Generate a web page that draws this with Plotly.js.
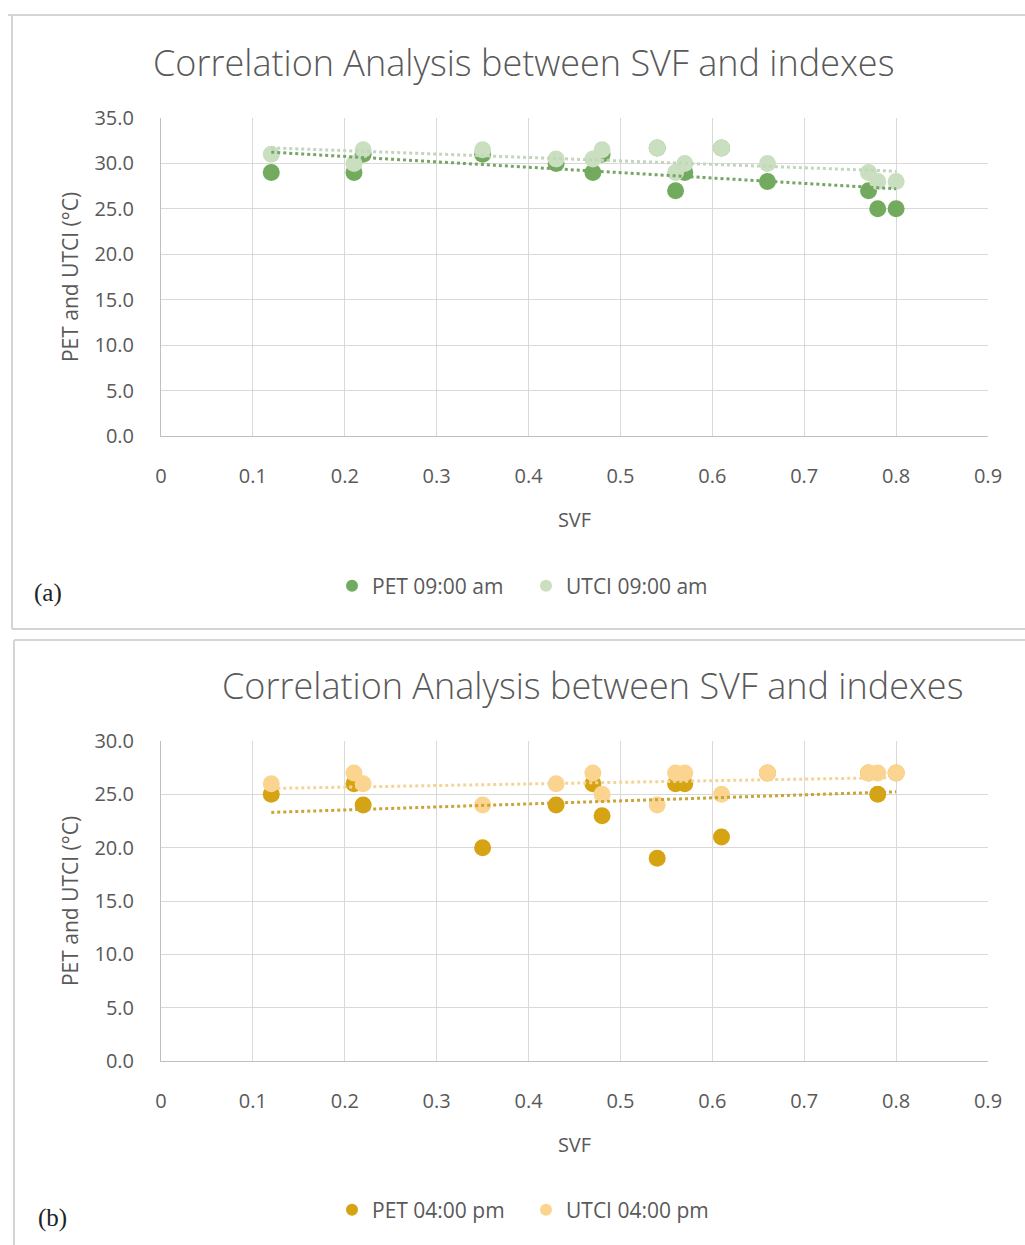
<!DOCTYPE html>
<html>
<head>
<meta charset="utf-8">
<script src="https://cdn.plot.ly/plotly-3.0.1.min.js"></script>
<style>html,body{margin:0;padding:0;background:#fff}#chart{width:1025px;height:1245px}</style>
</head>
<body>
<div id="chart"></div>
<script>
// ---- data ----
const svf = [0.12, 0.21, 0.22, 0.35, 0.43, 0.47, 0.48, 0.54, 0.56, 0.57, 0.61, 0.66, 0.77, 0.78, 0.80];
const pet0900  = [29, 29, 31, 31, 30, 29, 31, 31.7, 27, 29, 31.7, 28, 27, 25, 25];
const utci0900 = [31, 30, 31.5, 31.5, 30.5, 30.5, 31.5, 31.7, 29, 30, 31.7, 30, 29, 28, 28];
const pet1600  = [25, 26, 24, 20, 24, 26, 23, 19, 26, 26, 21, 27, 27, 25, 27];
const utci1600 = [26, 27, 26, 24, 26, 27, 25, 24, 27, 27, 25, 27, 27, 27, 27];
const seriesNames = ["PET 09:00 am", "UTCI 09:00 am", "PET 04:00 pm", "UTCI 04:00 pm"];
const chartTitle = "Correlation Analysis between SVF and indexes";
const xTitle = "SVF";
const yTitle = "PET and UTCI (°C)";
const panelLabels = ["(a)", "(b)"];

// ---- helpers ----
function trend(xs, ys) {
  const n = xs.length;
  const mx = xs.reduce((a, b) => a + b, 0) / n;
  const my = ys.reduce((a, b) => a + b, 0) / n;
  let sxy = 0, sxx = 0;
  for (let i = 0; i < n; i++) { sxy += (xs[i] - mx) * (ys[i] - my); sxx += (xs[i] - mx) ** 2; }
  const b = sxy / sxx, a = my - b * mx;
  const x0 = Math.min(...xs), x1 = Math.max(...xs);
  return { x: [x0, x1], y: [a + b * x0, a + b * x1] };
}
const W = 1025, H = 1245;
const px = v => v / W, py = v => 1 - v / H;

const cPetAm = "#72aa5e", cUtciAm = "#c9dfc0", cPetPm = "#d6a312", cUtciPm = "#fbd590";
const FONT = "Open Sans, Noto Sans, sans-serif";
const gray = "#595959";

function pts(x, y, name, color, xa, ya, legend) {
  return { type: "scatter", mode: "markers", x, y, name, xaxis: xa, yaxis: ya, legend,
    marker: { size: 17, color, line: { width: 0 } } };
}
function tl(x, y, color, xa, ya) {
  const t = trend(x, y);
  return { type: "scatter", mode: "lines", x: t.x, y: t.y, xaxis: xa, yaxis: ya, showlegend: false,
    hoverinfo: "skip", line: { color, width: 3, dash: "dot" } };
}

const data = [
  pts(svf, pet0900, seriesNames[0], cPetAm, "x", "y", "legend"),
  pts(svf, utci0900, seriesNames[1], cUtciAm, "x", "y", "legend"),
  tl(svf, pet0900, "#76a566", "x", "y"),
  tl(svf, utci0900, "#c3d6bd", "x", "y"),
  pts(svf, pet1600, seriesNames[2], cPetPm, "x2", "y2", "legend2"),
  pts(svf, utci1600, seriesNames[3], cUtciPm, "x2", "y2", "legend2"),
  tl(svf, pet1600, "#c9a535", "x2", "y2"),
  tl(svf, utci1600, "#f3d59a", "x2", "y2"),
];

function xaxis(anchor) {
  return { domain: [px(161), px(988)], anchor, range: [0, 0.9], dtick: 0.1, tick0: 0,
    showgrid: true, gridcolor: "#d9d9d9", gridwidth: 1, zeroline: false,
    showline: true, linecolor: "#bfbfbf", linewidth: 1, ticks: "", ticklabelstandoff: 22,
    tickfont: { family: FONT, size: 20, color: gray },
    title: { text: xTitle, standoff: 24, font: { family: FONT, size: 20, color: gray } } };
}
function yaxis(anchor, dom, max) {
  return { domain: dom, anchor, range: [0, max], dtick: 5, tickformat: ".1f",
    showgrid: true, gridcolor: "#d9d9d9", gridwidth: 1, zeroline: false,
    showline: true, linecolor: "#bfbfbf", linewidth: 1, ticks: "", ticklabelstandoff: 22,
    tickfont: { family: FONT, size: 20, color: gray },
    title: { text: yTitle, standoff: 10, font: { family: FONT, size: 21, color: gray } } };
}

const border = "#d4d4d4";
const legendCommon = { orientation: "h", xanchor: "left", yanchor: "middle",
  entrywidth: 149, entrywidthmode: "pixels", itemsizing: "constant",
  font: { family: FONT, size: 21, color: gray }, bgcolor: "rgba(0,0,0,0)" };
const layout = {
  width: W, height: H, margin: { l: 0, r: 0, t: 0, b: 0 },
  paper_bgcolor: "#fff", plot_bgcolor: "#fff",
  showlegend: true,
  xaxis: xaxis("y"),
  yaxis: yaxis("x", [py(436), py(118)], 35),
  xaxis2: xaxis("y2"),
  yaxis2: yaxis("x2", [py(1061), py(741)], 30),
  legend: Object.assign({ x: px(332), y: py(586) }, legendCommon),
  legend2: Object.assign({ x: px(332), y: py(1210) }, legendCommon),
  annotations: [
    { text: chartTitle, xref: "paper", yref: "paper", x: px(523), y: py(62), xanchor: "center", yanchor: "middle",
      showarrow: false, font: { family: FONT, size: 36, color: gray, weight: 300 } },
    { text: chartTitle, xref: "paper", yref: "paper", x: px(592), y: py(686), xanchor: "center", yanchor: "middle",
      showarrow: false, font: { family: FONT, size: 36, color: gray, weight: 300 } },
    { text: panelLabels[0], xref: "paper", yref: "paper", x: px(48), y: py(593), xanchor: "center", yanchor: "middle",
      showarrow: false, font: { family: "Liberation Serif, DejaVu Serif, serif", size: 25, color: "#222" } },
    { text: panelLabels[1], xref: "paper", yref: "paper", x: px(52), y: py(1218), xanchor: "center", yanchor: "middle",
      showarrow: false, font: { family: "Liberation Serif, DejaVu Serif, serif", size: 25, color: "#222" } },
  ],
  shapes: [
    { type: "line", xref: "paper", yref: "paper", x0: px(8), x1: 1, y0: py(15), y1: py(15), line: { color: border, width: 2 } },
    { type: "line", xref: "paper", yref: "paper", x0: px(12), x1: px(12), y0: py(15), y1: py(629), line: { color: border, width: 2 } },
    { type: "line", xref: "paper", yref: "paper", x0: px(12), x1: 1, y0: py(629), y1: py(629), line: { color: border, width: 2 } },
    { type: "line", xref: "paper", yref: "paper", x0: px(14), x1: 1, y0: py(640), y1: py(640), line: { color: border, width: 2 } },
    { type: "line", xref: "paper", yref: "paper", x0: px(14), x1: px(14), y0: py(640), y1: 0, line: { color: border, width: 2 } },
  ],
};

Plotly.newPlot("chart", data, layout, { displayModeBar: false, staticPlot: true });
</script>
</body>
</html>
